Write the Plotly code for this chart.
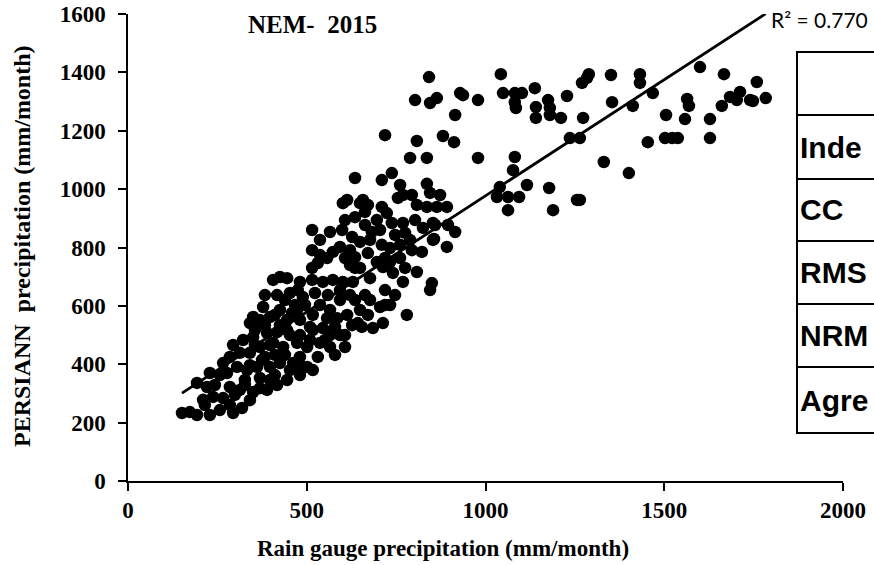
import plotly.graph_objects as go

# ---- data ----
gauge = [842, 864, 845, 803, 929, 937, 979, 915, 1043, 1049, 1082, 1102, 1082, 1085, 1138, 1141, 1141,
         1175, 1180, 1180, 1211, 1228, 1273, 1270, 1284, 1289, 1351, 1354, 1412, 1432, 1432, 1468, 1505,
         1564, 1569, 1558, 1600, 1628, 1661, 1667, 1684, 1703, 1712, 1740, 1748, 1759, 1784,
         719, 808, 881, 912, 789, 836, 979, 1082, 1077, 1236, 1264, 1454, 1502, 1522, 1538, 1628, 1331, 1401,
         635, 710, 738, 761, 836, 845, 769, 794, 873, 864, 892, 613, 657, 1040, 1032, 1063, 1094, 1116, 1178,
         1063, 1189, 1256, 1264, 859, 895, 915, 856, 892, 850, 601, 649, 671, 663, 710, 724, 755, 808, 836,
         635, 696, 738, 769, 775, 515, 565, 599, 627, 682, 705, 825, 853, 649, 515, 710, 733, 761, 794, 853,
         557, 573, 607, 635, 671, 822,
         515, 531, 621, 635, 649, 696, 713, 733, 741, 775, 808, 677, 425, 445, 481, 515, 545, 573, 601, 629,
         453, 489, 523, 559, 769, 845, 406, 383, 417, 593,
         425, 459, 445, 613, 671, 705, 733, 780, 627, 654, 685, 713, 481, 509, 545, 579, 378, 350, 341, 369,
         397, 473, 517, 557, 585, 643, 294, 322, 350, 389, 417, 445, 517, 607,
         266, 285, 313, 341, 369, 406, 434, 473, 501, 537, 565, 277, 305, 333, 361, 397, 425, 462, 501, 517,
         229, 193, 221, 285, 313, 350, 389, 417, 445, 210, 238, 266, 257, 294, 319, 151, 173, 193, 229,
         383, 439, 481, 531, 327, 369, 411, 481, 397, 355, 425, 481, 439, 467, 593, 635, 663, 537, 607, 565,
         649, 719,
         475, 593, 621, 495, 565, 677, 719, 747, 355, 383, 411, 453, 509, 551, 593, 579, 341, 375, 411, 453,
         481, 299, 327, 369, 397, 243, 257, 215, 341, 285,
         537, 621, 677, 747, 789, 607, 663, 803, 537, 719, 761]
persiann = [1384, 1312, 1295, 1305, 1329, 1322, 1305, 1254, 1394, 1329, 1329, 1329, 1298, 1278, 1346, 1281, 1244,
            1305, 1278, 1254, 1244, 1319, 1244, 1364, 1381, 1394, 1391, 1298, 1285, 1394, 1364, 1329, 1254,
            1309, 1285, 1240, 1418, 1240, 1285, 1394, 1316, 1305, 1333, 1305, 1302, 1367, 1312,
            1185, 1165, 1182, 1161, 1107, 1107, 1107, 1110, 1065, 1175, 1175, 1161, 1175, 1175, 1175, 1175, 1093, 1055,
            1038, 1031, 1055, 1014, 1018, 987, 980, 980, 980, 939, 939, 963, 963, 1007, 973, 973, 973, 1014, 1004,
            928, 928, 963, 963, 877, 877, 853, 829, 802, 678, 952, 952, 946, 922, 939, 918, 970, 946, 939,
            904, 894, 884, 884, 850, 860, 853, 860, 836, 853, 860, 867, 884, 819, 791, 809, 798, 809, 791, 826,
            764, 785, 764, 767, 781, 785,
            730, 747, 740, 730, 730, 750, 733, 750, 713, 730, 716, 695, 699, 695, 682, 689, 682, 689, 682, 682,
            644, 630, 644, 637, 682, 654, 689, 637, 637, 802,
            586, 576, 552, 569, 569, 596, 603, 569, 534, 528, 524, 541, 552, 528, 524, 528, 596, 562, 541, 552,
            562, 586, 569, 558, 558, 541, 466, 483, 493, 507, 510, 517, 517, 459,
            404, 425, 439, 439, 459, 473, 459, 473, 459, 473, 459, 370, 391, 380, 391, 391, 404, 404, 391, 380,
            370, 336, 322, 322, 312, 305, 312, 329, 346, 278, 288, 284, 243, 233, 250, 233, 236, 226, 226,
            425, 432, 425, 425, 346, 353, 363, 363, 466, 517, 534, 500, 620, 603, 620, 620, 637, 603, 500, 500,
            586, 654,
            654, 654, 637, 603, 586, 620, 603, 637, 466, 534, 569, 500, 483, 483, 500, 432, 397, 415, 432, 380,
            397, 295, 329, 318, 346, 329, 363, 260, 277, 260,
            826, 791, 826, 843, 826, 894, 877, 894, 774, 764, 764]

# trend line (Excel linear trendline)
trend_slope = 0.796
trend_intercept = 181
r2_label = "R² = 0.770"

title_text = "NEM-  2015"
x_title = "Rain gauge precipitation (mm/month)"
y_title = "PERSIANN  precipitation (mm/month)"
table_rows = ["Inde", "CC", "RMS", "NRM", "Agre"]

x_ticks = [0, 500, 1000, 1500, 2000]
y_ticks = [0, 200, 400, 600, 800, 1000, 1200, 1400, 1600]

# ---- figure ----
W, H = 874, 565
L, R, T, B = 128, 31, 14, 84
pw, ph = W - L - R, H - T - B

def px(xp):
    return (xp - L) / pw

def py(yp):
    return (H - B - yp) / ph

fig = go.Figure()
fig.add_trace(go.Scatter(
    x=gauge, y=persiann, mode="markers",
    marker=dict(size=12.5, color="black", line=dict(width=0)),
    showlegend=False, hoverinfo="x+y"))

tx = [min(gauge), max(gauge)]
ty = [trend_slope * v + trend_intercept for v in tx]
fig.add_trace(go.Scatter(x=tx, y=ty, mode="lines",
                         line=dict(color="black", width=2.8),
                         showlegend=False, hoverinfo="skip"))

serif = "Liberation Serif, Times New Roman, serif"
axis_common = dict(showgrid=False, zeroline=False, showline=True, linecolor="black", linewidth=1.5,
                   ticks="outside", ticklen=8, tickwidth=1.5, tickcolor="black", automargin=False,
                   tickfont=dict(family=serif, size=23, color="black"))

fig.update_layout(
    width=W, height=H,
    margin=dict(l=L, r=R, t=T, b=B, autoexpand=False),
    paper_bgcolor="white", plot_bgcolor="white",
    xaxis=dict(range=[0, 2000], tickvals=x_ticks, ticktext=[f"<b>{v}</b>" for v in x_ticks],
               **axis_common),
    yaxis=dict(range=[0, 1600], tickvals=y_ticks, ticktext=[f"<b>{v}</b>" for v in y_ticks],
               ticklabelstandoff=8, **axis_common),
)

# axis titles
fig.add_annotation(x=px(443), y=py(548), xref="paper", yref="paper", text=f"<b>{x_title}</b>",
                   showarrow=False, font=dict(family=serif, size=23, color="black"),
                   xanchor="center", yanchor="middle")
fig.add_annotation(x=px(22), y=py(246), xref="paper", yref="paper", text=f"<b>{y_title}</b>",
                   showarrow=False, textangle=-90, font=dict(family=serif, size=24, color="black"),
                   xanchor="center", yanchor="middle")

# title inside plot
fig.add_annotation(x=px(312), y=py(25), xref="paper", yref="paper", text=f"<b>{title_text}</b>",
                   showarrow=False, font=dict(family=serif, size=25, color="black"),
                   xanchor="center", yanchor="middle")

# R² label
fig.add_annotation(x=px(769), y=py(20), xref="paper", yref="paper", text=r2_label,
                   showarrow=False, font=dict(family="Lato, Open Sans, sans-serif", size=21, color="black"),
                   xanchor="left", yanchor="middle")

# statistics table (cut off at right edge)
tab_left, tab_right = 797, 960
row_edges = [52, 115, 179, 241, 304, 367, 433]
fig.add_shape(type="rect", xref="paper", yref="paper",
              x0=px(tab_left), x1=px(tab_right), y0=py(row_edges[-1]), y1=py(row_edges[0]),
              line=dict(color="black", width=2), fillcolor="white", layer="above")
for e in row_edges[1:-1]:
    fig.add_shape(type="line", xref="paper", yref="paper",
                  x0=px(tab_left), x1=px(tab_right), y0=py(e), y1=py(e),
                  line=dict(color="black", width=2), layer="above")
for i, label in enumerate(table_rows):
    yc = (row_edges[i + 1] + row_edges[i + 2]) / 2
    fig.add_annotation(x=px(tab_left + 1), y=py(yc), xref="paper", yref="paper",
                       text=f"<b>{label}</b>", showarrow=False, xanchor="left", yanchor="middle",
                       font=dict(family="Liberation Sans, Arial, sans-serif", size=30, color="black"))

fig.write_html("out.html")
